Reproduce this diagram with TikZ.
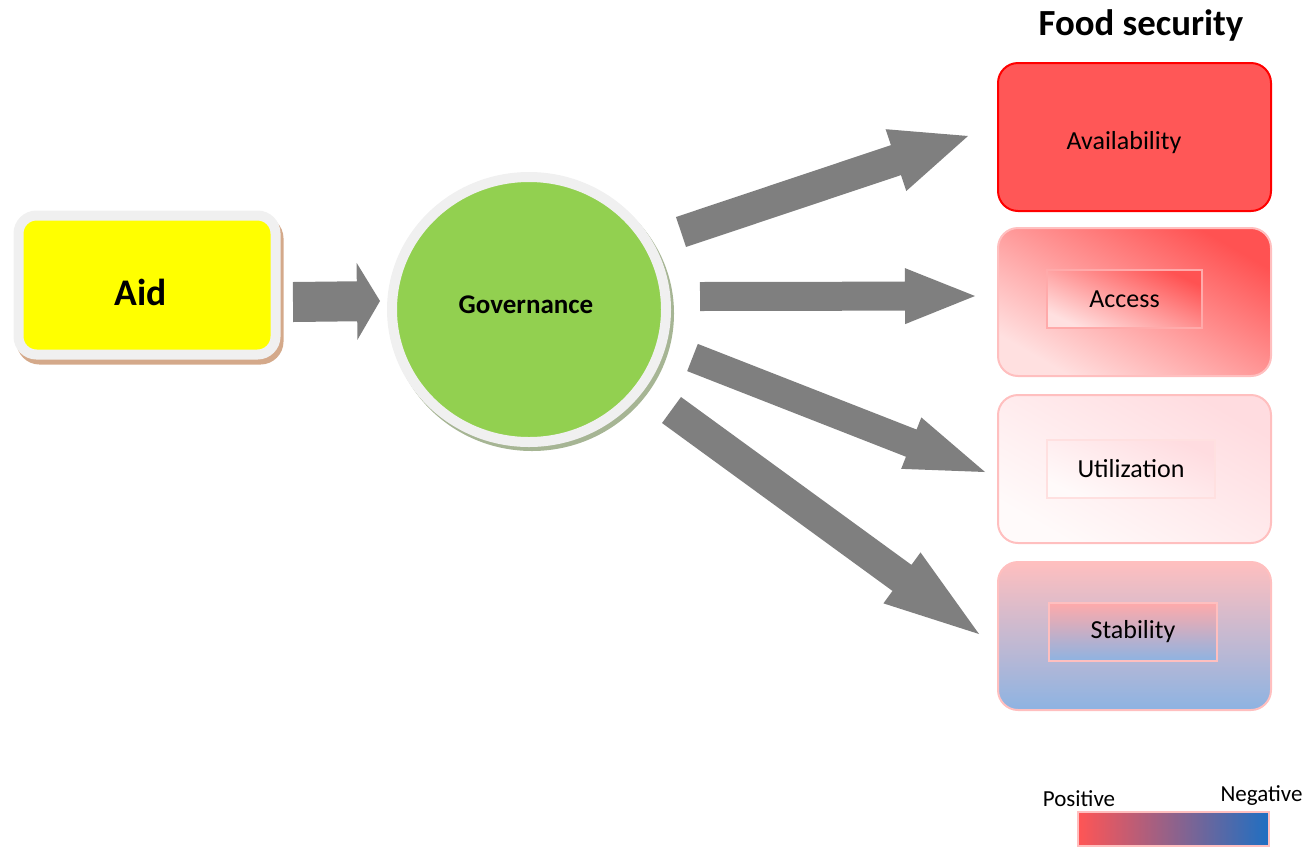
\documentclass[tikz,border=0pt]{standalone}
\usepackage{fontspec}
\setmainfont{Carlito}
\usetikzlibrary{calc,shapes.geometric}
\definecolor{aidyellow}{HTML}{FFFF00}
\definecolor{govgreen}{HTML}{92D050}
\definecolor{rimgray}{HTML}{F0F0F0}
\definecolor{aidshade}{HTML}{D4A98A}
\definecolor{govshade}{HTML}{A6B594}
\definecolor{arrowgray}{HTML}{7F7F7F}
\definecolor{fsred}{HTML}{FF5757}
\definecolor{fsrim}{HTML}{FF0000}
\definecolor{fshot}{HTML}{FF5252}
\definecolor{fspink}{HTML}{FFBFBF}
\definecolor{fsrose}{HTML}{FFAAAA}
\definecolor{fspale}{HTML}{FFE0E0}
\definecolor{fsblush}{HTML}{FFDCE0}
\definecolor{fssnow}{HTML}{FFFAFA}
\definecolor{fsblue}{HTML}{8DB3E2}
\definecolor{legred}{HTML}{FF5555}
\definecolor{legmid}{HTML}{B8608F}
\definecolor{legblue}{HTML}{1F6FC2}

% block arrow: tail, tip, half shaft, half head, head length
\newcommand{\blockarrow}[5]{%
  \coordinate (hb) at ($(#2)!#5!(#1)$);
  \fill[arrowgray] ($(#1)!#3!90:(#2)$) -- ($(hb)!#3!90:(#2)$)
    -- ($(hb)!#4!90:(#2)$) -- (#2) -- ($(hb)!#4!-90:(#2)$)
    -- ($(hb)!#3!-90:(#2)$) -- ($(#1)!#3!-90:(#2)$) -- cycle;
}

\begin{document}
\begin{tikzpicture}[x=0.5pt, y=-0.5pt,
  aidbox/.style={rectangle, rounded corners=9pt, minimum width=128.5pt,
    minimum height=69.5pt, inner sep=0pt, fill=aidyellow, draw=rimgray,
    line width=5pt, font=\bfseries\fontsize{18.8}{20}\selectfont,
    text height=21pt, preaction={fill=aidshade, draw=aidshade,
      transform canvas={shift={(1.5pt,-2.5pt)}}}},
  govdisc/.style={ellipse, minimum width=137pt, minimum height=132.5pt,
    inner sep=0pt, fill=govgreen, draw=rimgray, line width=5pt,
    font=\bfseries\fontsize{13.5}{15}\selectfont, text depth=5pt,
    preaction={fill=govshade, draw=govshade,
      transform canvas={shift={(1.5pt,-2pt)}}}},
  fsbox/.style={rectangle, rounded corners=10pt, minimum width=136.5pt,
    minimum height=74pt, inner sep=0pt, line width=1pt},
  fstag/.style={rectangle, minimum height=29pt, inner sep=0pt,
    line width=1pt, font=\fontsize{13}{15}\selectfont},
  legtext/.style={font=\fontsize{11.5}{13}\selectfont}]
  \useasboundingbox (0,0) rectangle (1311,847);

  % aid and governance
  \node[aidbox] (aid) at (147,285) {\hspace*{-6pt}Aid};
  \node[govdisc] (gov) at (529,309.5) {\hspace*{-3pt}Governance};

  % food security pillars
  \node[font=\bfseries\fontsize{18.4}{20}\selectfont] (title) at (1141,25) {Food security};
  \node[fsbox, fill=fsred, draw=fsrim] (avail) at (1134.5,137) {};
  \node[fstag] (availtag) at (1124,143) {Availability};
  \node[fsbox, draw=fspink, top color=fshot, bottom color=fspale,
        shading angle=-30] (access) at (1134.5,302) {};
  \node[fstag, minimum width=77.5pt, draw=fsrose, top color=fshot,
        bottom color=fspale, shading angle=-25] (accesstag) at (1124.5,299) {Access};
  \node[fsbox, draw=fspink, top color=fsblush, bottom color=fssnow,
        shading angle=-30] (util) at (1134.5,469) {};
  \node[fstag, minimum width=84pt, draw=fspale, top color=fsblush,
        bottom color=fssnow, shading angle=-25] (utiltag) at (1131,469) {Utilization};
  \node[fsbox, draw=fspink, top color=fspink, bottom color=fsblue] (stab) at (1134.5,636) {};
  \node[fstag, minimum width=84pt, draw=fspink, top color=fsrose,
        middle color=fsrose!50!fsblue, bottom color=fsblue] (stabtag) at (1133,632) {Stability};

  % legend
  \node[rectangle, minimum width=95.5pt, minimum height=17pt, inner sep=0pt,
        draw=fspink, line width=1pt, left color=legred, middle color=legmid,
        right color=legblue] (legend) at (1173.5,829) {};
  \node[legtext] (pos) at (1079,799) {Positive};
  \node[legtext] (neg) at (1261.5,796) {Negative};

  % arrows
  \coordinate (aid-out) at (293,302);
  \coordinate (gov-in) at (380,301);
  \blockarrow{aid-out}{gov-in}{10pt}{19.25pt}{11.5pt}
  \coordinate (gov-avail) at (681,232);
  \coordinate (avail-in) at (968,136);
  \blockarrow{gov-avail}{avail-in}{7.9pt}{16.3pt}{38pt}
  \coordinate (gov-access) at (700,296.5);
  \coordinate (access-in) at (975,296);
  \blockarrow{gov-access}{access-in}{7.25pt}{14pt}{35pt}
  \coordinate (gov-util) at (692.5,357.5);
  \coordinate (util-in) at (985,472);
  \blockarrow{gov-util}{util-in}{7.3pt}{13.8pt}{39.6pt}
  \coordinate (gov-stab) at (671.5,410);
  \coordinate (stab-in) at (979,634);
  \blockarrow{gov-stab}{stab-in}{8.05pt}{15.75pt}{47.65pt}
\end{tikzpicture}
\end{document}
